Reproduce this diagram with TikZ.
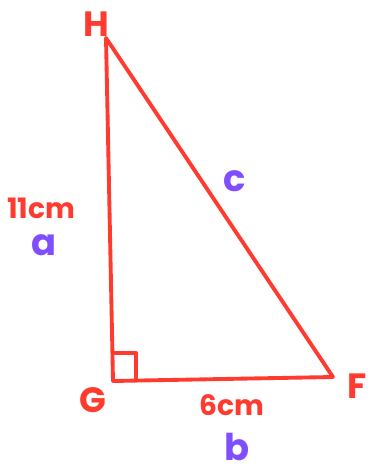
\documentclass[tikz,border=0pt]{standalone}
\usepackage{fontspec}
\setmainfont{Poppins}
\definecolor{penred}{HTML}{FF3B30}
\definecolor{penpurple}{HTML}{7F4FFF}
\tikzset{
    side/.style={draw=penred, line width=2.2pt, line join=round, line cap=round},
    redtext/.style={text=penred, font=\fontsize{20}{22}\selectfont\bfseries, inner sep=0pt},
    lengthtext/.style={redtext, font=\fontsize{16}{18}\selectfont\bfseries},
    purpletext/.style={text=penpurple, font=\fontsize{21}{23}\selectfont\bfseries, inner sep=0pt}
}

\begin{document}
\begin{tikzpicture}[x=0.02cm, y=-0.02cm]
            % Frame and corners:
                \useasboundingbox (0, 0) rectangle (368, 471);
                \coordinate (H) at (106, 38);
                \coordinate (G) at (113, 381);
                \coordinate (F) at (333, 377);
            % Sides of the triangle:
                \draw[side] (H) -- (G);
                \draw[side] (G) -- (F);
                \draw[side] (F) -- (H);
                \draw[side] (113, 353) -- (136, 353) -- (136, 380);
            % Labels:
                \node[redtext](LH) at (96, 24){H};
                \node[redtext](LG) at (93, 400){G};
                \node[redtext](LF) at (357, 386){F};
                \node[lengthtext](LGH) at (41, 208){11cm};
                \node[lengthtext](LGF) at (232, 405){6cm};
                \node[purpletext](La) at (44, 245){a};
                \node[purpletext](Lb) at (237, 447){b};
                \node[purpletext](Lc) at (235, 181){c};
            \end{tikzpicture}
\end{document}
